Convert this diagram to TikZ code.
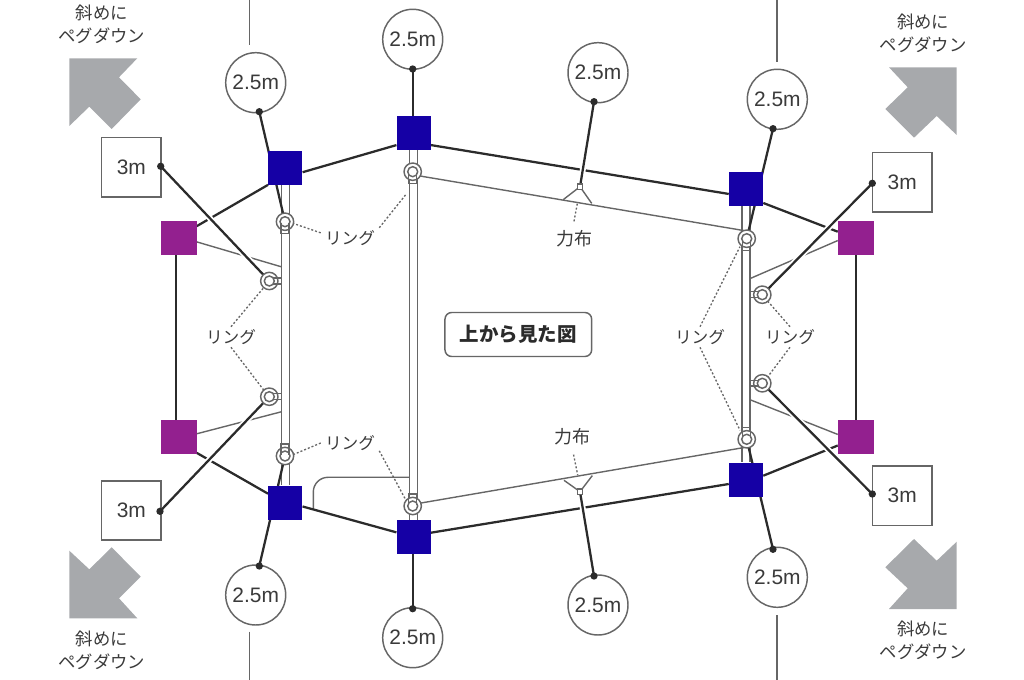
\documentclass[tikz,border=0pt]{standalone}
\usepackage{fontspec}
\usetikzlibrary{calc}
\setmainfont{Liberation Sans}
\newfontfamily\jp{Noto Sans CJK JP}
\definecolor{blueq}{HTML}{1500A5}
\definecolor{purpq}{HTML}{93208F}
\definecolor{arrq}{HTML}{A7A9AC}
\definecolor{inkq}{HTML}{2B2B2B}
\definecolor{txtq}{HTML}{3A3A3A}
\definecolor{lineq}{HTML}{666666}
\pgfdeclarelayer{bg}
\pgfsetlayers{bg,main}
\tikzset{
 x=0.75pt,y=-0.75pt,
 bluesq/.style={rectangle,fill=blueq,inner sep=0,minimum size=25.5pt},
 purpsq/.style={rectangle,fill=purpq,inner sep=0,minimum width=27pt,minimum height=25.5pt},
 rcirc/.style={circle,draw=lineq,line width=1.1pt,fill=white,inner sep=0,minimum size=45pt,font=\fontsize{15.7}{18}\selectfont,text=txtq},
 msq/.style={rectangle,draw=lineq,line width=1.1pt,fill=white,inner sep=0,minimum size=44.5pt,font=\fontsize{15.7}{18}\selectfont,text=txtq},
 dotq/.style={circle,fill=inkq,inner sep=0,minimum size=5.5pt},
 ringq/.style={circle,draw=lineq,line width=1.1pt,fill=white,inner sep=0,outer sep=0,minimum size=13pt},
 ringin/.style={draw=lineq,line width=1.1pt},
 rope/.style={draw=inkq,line width=1.7pt},
 haloed/.style={preaction={draw=white,line width=4.4pt},draw=inkq,line width=1.7pt},
 thinq/.style={draw=lineq,line width=1.05pt},
 guy/.style={draw=lineq,line width=1.1pt},
 leader/.style={draw=lineq,line width=1pt,dash pattern=on 1.5pt off 1.5pt},
 ringlab/.style={inner sep=0,minimum width=43.5pt,minimum height=15pt,font=\jp\fontsize{12.5}{14}\selectfont,text=txtq},
 patchlab/.style={inner sep=0,minimum width=30pt,minimum height=26pt,font=\jp\fontsize{13.5}{15}\selectfont,text=txtq},
 pegq/.style={inner sep=0,align=center,font=\jp\fontsize{13}{17.2}\selectfont,text=txtq},
 titleq/.style={draw=lineq,line width=1.1pt,rounded corners=5pt,fill=white,inner sep=0,minimum width=110pt,minimum height=33pt,font=\jp\bfseries\fontsize{14.6}{16}\selectfont,text=inkq},
 tabq/.style={rectangle,draw=lineq,line width=.9pt,fill=white,inner sep=0,minimum size=4pt},
 arrowq/.style={fill=arrq}
}
\begin{document}
\begin{tikzpicture}
\useasboundingbox (0,0) rectangle (1024,680);
% squares
\node[bluesq] (b1) at (285.3,167.6) {};
\node[bluesq] (b2) at (413.7,133) {};
\node[bluesq] (b3) at (746,189) {};
\node[bluesq] (b4) at (285.3,502.5) {};
\node[bluesq] (b5) at (413.7,537) {};
\node[bluesq] (b6) at (746,479.7) {};
\node[purpsq] (p1) at (178.5,238) {};
\node[purpsq] (p2) at (856,238) {};
\node[purpsq] (p3) at (178.5,437) {};
\node[purpsq] (p4) at (856,437) {};
% distance markers
\node[rcirc] (c1) at (255.7,82.7) {2.5m};
\node[rcirc] (c2) at (412.7,39.3) {2.5m};
\node[rcirc] (c3) at (598,72.7) {2.5m};
\node[rcirc] (c4) at (777.3,99.3) {2.5m};
\node[rcirc] (c5) at (255.7,595) {2.5m};
\node[rcirc] (c6) at (412.7,637.7) {2.5m};
\node[rcirc] (c7) at (598,605) {2.5m};
\node[rcirc] (c8) at (777.3,577.3) {2.5m};
\node[msq] (m1) at (131.3,167.3) {3m};
\node[msq] (m2) at (902.2,182.2) {3m};
\node[msq] (m3) at (131.3,510.5) {3m};
\node[msq] (m4) at (902.2,495.7) {3m};
% peg dots
\node[dotq] (d1) at (259.3,111.7) {};
\node[dotq] (d2) at (412.7,69) {};
\node[dotq] (d3) at (594,101.7) {};
\node[dotq] (d4) at (773,128.7) {};
\node[dotq] (d5) at (259.3,566) {};
\node[dotq] (d6) at (412.7,608.7) {};
\node[dotq] (d7) at (594,576) {};
\node[dotq] (d8) at (773,549.3) {};
\node[dotq] (e1) at (160.7,166.3) {};
\node[dotq] (e2) at (872.3,183.3) {};
\node[dotq] (e3) at (160,511.3) {};
\node[dotq] (e4) at (872.3,494) {};
% rings
\node[ringq] (r1) at (285,221.7) {};
\node[ringq] (r2) at (412.7,171.7) {};
\node[ringq] (r3) at (746.7,238.7) {};
\node[ringq] (r4) at (285,456) {};
\node[ringq] (r5) at (412.7,506) {};
\node[ringq] (r6) at (746.7,439.3) {};
\node[ringq] (s1) at (269.3,281) {};
\node[ringq] (s2) at (269.3,396.7) {};
\node[ringq] (s3) at (762.3,294.7) {};
\node[ringq] (s4) at (762.3,383.3) {};
\foreach \n in {r1,r2,r3,r4,r5,r6,s1,s2,s3,s4}{\draw[ringin] (\n.center) circle (5);}
\foreach \n in {r1,r2,r3}{
 \draw[ringin] ([xshift=-3pt,yshift=-1pt]\n.center) -- ([xshift=-3pt,yshift=-9pt]\n.center) -- ([xshift=3pt,yshift=-9pt]\n.center) -- ([xshift=3pt,yshift=-1pt]\n.center);}
\foreach \n in {r4,r5,r6}{
 \draw[ringin] ([xshift=-3pt,yshift=1pt]\n.center) -- ([xshift=-3pt,yshift=9pt]\n.center) -- ([xshift=3pt,yshift=9pt]\n.center) -- ([xshift=3pt,yshift=1pt]\n.center);}
\foreach \n in {s1,s2}{
 \draw[ringin] ([xshift=3pt,yshift=2.2pt]\n.center) -- ([xshift=9pt,yshift=2.2pt]\n.center);
 \draw[ringin] ([xshift=3pt,yshift=-2.2pt]\n.center) -- ([xshift=9pt,yshift=-2.2pt]\n.center);}
\foreach \n in {s3,s4}{
 \draw[ringin] ([xshift=-3pt,yshift=2.2pt]\n.center) -- ([xshift=-9pt,yshift=2.2pt]\n.center);
 \draw[ringin] ([xshift=-3pt,yshift=-2.2pt]\n.center) -- ([xshift=-9pt,yshift=-2.2pt]\n.center);}
% patches
\node[tabq] (t1) at (580,186.7) {};
\node[tabq] (t2) at (580,491.7) {};
% labels
\node[ringlab] (l1) at (350,238) {リング};
\node[ringlab] (l2) at (231,337) {リング};
\node[ringlab] (l3) at (350,443) {リング};
\node[ringlab] (l4) at (700,337) {リング};
\node[ringlab] (l5) at (790,337) {リング};
\node[patchlab] (f1) at (574,239) {力布};
\node[patchlab] (f2) at (572,437) {力布};
\node[titleq] (title) at (518.3,334.5) {上から見た図};
\node[pegq] (g1) at (101.7,24.5) {斜めに\\ペグダウン};
\node[pegq] (g2) at (923.3,33.5) {斜めに\\ペグダウン};
\node[pegq] (g3) at (101.7,650) {斜めに\\ペグダウン};
\node[pegq] (g4) at (923.3,640.5) {斜めに\\ペグダウン};
% free ends
\coordinate (v1a) at (249.3,0); \coordinate (v1b) at (249.3,45);
\coordinate (v2a) at (249.3,631.7); \coordinate (v2b) at (249.3,680);
\coordinate (v3a) at (777,0); \coordinate (v3b) at (777,62);
\coordinate (v4a) at (777,615); \coordinate (v4b) at (777,680);
\coordinate (dA) at (313.3,509); \coordinate (dB) at (409.3,477.3);
\coordinate (ta) at (563.3,199.6); \coordinate (tb) at (591.7,203.4);
\coordinate (tc) at (564,480.3); \coordinate (td) at (592.3,475.6);
\coordinate (ga) at (281,266.7); \coordinate (gb) at (281.7,411.7);
\coordinate (gc) at (750.7,278.3); \coordinate (gd) at (750.7,400);
\coordinate (vx) at (176,0);
\coordinate (fa) at (577.3,203.5); \coordinate (fb) at (577.7,475);
% direction arrows
\fill[arrowq] (69.3,58.3) -- (137.3,58.3) -- (119,77.3) -- (140.7,99.3) -- (111.7,129) -- (89.3,106.7) -- (69.3,126) -- cycle;
\fill[arrowq] (69.3,618.3) -- (137.3,618.3) -- (119,598.3) -- (140.7,576.7) -- (111.7,547.3) -- (89.3,569.3) -- (69.3,550.7) -- cycle;
\fill[arrowq] (889,67.3) -- (956.7,67.3) -- (956.7,135) -- (936.7,116) -- (914,137.7) -- (885.3,109) -- (907.7,87.3) -- cycle;
\fill[arrowq] (889,609) -- (956.7,609) -- (956.7,541.7) -- (936.7,560.7) -- (914,539) -- (885.3,567.3) -- (907.7,588.3) -- cycle;
\begin{pgfonlayer}{bg}
% poles
\foreach \a/\b in {b1/b4,b2/b5,b3/b6}{
 \draw[thinq] ([xshift=-3pt]\a.south) -- ([xshift=-3pt]\b.north);
 \draw[thinq] ([xshift=3pt]\a.south) -- ([xshift=3pt]\b.north);}
% fabric edges
\draw[thinq] (r2.-30) -- (r3.110);
\draw[thinq] (r5.20) -- (r6.-108);
\draw[thinq] (ta) -- (t1.center) -- (tb);
\draw[thinq] (tc) -- (t2.center) -- (td);
\draw[thinq] (p1.-12) -- (ga);
\draw[thinq] (p3.10) -- (gb);
\draw[thinq] (p2.188) -- (gc);
\draw[thinq] (p4.172) -- (gd);
\draw[thinq,rounded corners=11pt] (dA) -- (dA |- dB) -- (dB);
% outline
\draw[rope] (p1.33.7) -- (b1.south west);
\draw[rope] (b1.-15.5) -- (b2.215.2);
\draw[rope] (b2.-35.2) -- (b3.196.4);
\draw[rope] (b3.-39.5) -- (p2.161.6);
\draw[rope] (p3.-41) -- (b4.153.4);
\draw[rope] (b4.-13.9) -- (b5.165.8);
\draw[rope] (b5.14.2) -- (b6.194.2);
\draw[rope] (b6.13.2) -- (p4.205.8);
\draw[rope] (p1.south -| vx) -- (p3.north -| vx);
\draw[rope] (p2.south) -- (p4.north);
% guy ropes
\draw[rope] (d1.center) -- (r1.center);
\draw[rope] (d2.center) -- (b2.north -| d2);
\draw[rope] (d4.center) -- (r3.center);
\draw[rope] (d5.center) -- (r4.center);
\draw[rope] (d6.center) -- (b5.south -| d6);
\draw[rope] (d8.center) -- (r6.center);
\draw[haloed] (d3.center) -- (t1.center);
\draw[haloed] (d7.center) -- (t2.center);
\draw[haloed] (e1.center) -- (s1.center);
\draw[haloed] (e2.center) -- (s3.center);
\draw[haloed] (e3.center) -- (s2.center);
\draw[haloed] (e4.center) -- (s4.center);
% lines at the margins
\draw[guy] (v1a) -- (v1b);
\draw[guy] (v2a) -- (v2b);
\draw[guy] (v3a) -- (v3b);
\draw[guy] (v4a) -- (v4b);
% leaders
\draw[leader] (l1.170.6) -- (r1.-12);
\draw[leader] (l1.north east) -- ($(r2)+(-7,23)$);
\draw[leader] (l2.north) -- (s1.-130);
\draw[leader] (l2.south) -- (s2.130);
\draw[leader] (l3.west) -- (r4.10);
\draw[leader] (l3.-15) -- (r5.140);
\draw[leader] (l4.north) -- ($(r3)+(-6.7,8)$);
\draw[leader] (l4.south) -- ($(r6)+(-6.7,-9)$);
\draw[leader] (l5.north) -- (s3.-50);
\draw[leader] (l5.south) -- (s4.50);
\draw[leader] (f1.north) -- (fa);
\draw[leader] (f2.-85) -- (fb);
\end{pgfonlayer}
\end{tikzpicture}
\end{document}
